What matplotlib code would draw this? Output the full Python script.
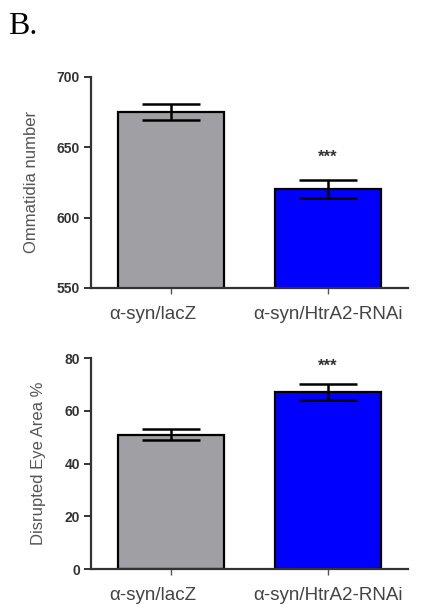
import numpy as np
import matplotlib.pyplot as plt

plt.rcParams['font.family'] = ['Liberation Sans', 'DejaVu Sans']

groups = ['α-syn/lacZ', 'α-syn/HtrA2-RNAi']
bar_colors = ['#a0a0a4', '#0000ff']

ommatidia_mean = [675, 620.5]
ommatidia_sem = [6, 6.5]

disrupted_mean = [51, 67]
disrupted_sem = [2, 3]

fig = plt.figure(figsize=(4.23, 6.1), dpi=100)
ax_top = fig.add_axes([0.215, 0.528, 0.75, 0.346])
ax_bot = fig.add_axes([0.215, 0.067, 0.75, 0.346])

fig.text(0.018, 0.945, 'B.', family='Liberation Serif', fontsize=23, color='black')

x = np.arange(len(groups))
# horizontal nudge of each group label, in points
label_dx = [-13, 0]


def draw_panel(ax, means, sems, ylim, yticks, ylabel, star_y):
    ax.bar(x, means, width=0.675, color=bar_colors, edgecolor='black',
           linewidth=1.6, zorder=2)
    ax.errorbar(x, means, yerr=sems, fmt='none', ecolor='black',
                elinewidth=1.8, capsize=21, capthick=1.8, zorder=3)
    ax.text(x[1], star_y, '***', ha='center', va='center', fontsize=12,
            fontweight='bold', color='#333333')
    ax.set_xlim(-0.51, 1.51)
    ax.set_ylim(*ylim)
    ax.set_yticks(yticks)
    ax.set_xticks(x)
    ax.set_xticklabels([])
    trans = ax.get_xaxis_transform()
    for xi, name, dx in zip(x, groups, label_dx):
        ax.annotate(name, xy=(xi, 0), xycoords=trans, xytext=(dx, -13),
                    textcoords='offset points', ha='center', va='top',
                    fontsize=13.5, color='#444444')
    ax.set_ylabel(ylabel, fontsize=12, color='#555555', labelpad=13)
    for side in ['top', 'right']:
        ax.spines[side].set_visible(False)
    for side in ['left', 'bottom']:
        ax.spines[side].set_linewidth(1.6)
        ax.spines[side].set_color('#333333')
    ax.tick_params(axis='y', length=5, width=1.4, color='#333333',
                   labelsize=10, labelcolor='#333333', pad=3)
    ax.tick_params(axis='x', length=4, width=1.0, color='#555555')
    for lbl in ax.get_yticklabels():
        lbl.set_fontweight('bold')


draw_panel(ax_top, ommatidia_mean, ommatidia_sem, (550, 700),
           [550, 600, 650, 700], 'Ommatidia number', 643)
draw_panel(ax_bot, disrupted_mean, disrupted_sem, (0, 80),
           [0, 20, 40, 60, 80], 'Disrupted Eye Area %', 77)

fig.savefig('out.png', dpi=100)
